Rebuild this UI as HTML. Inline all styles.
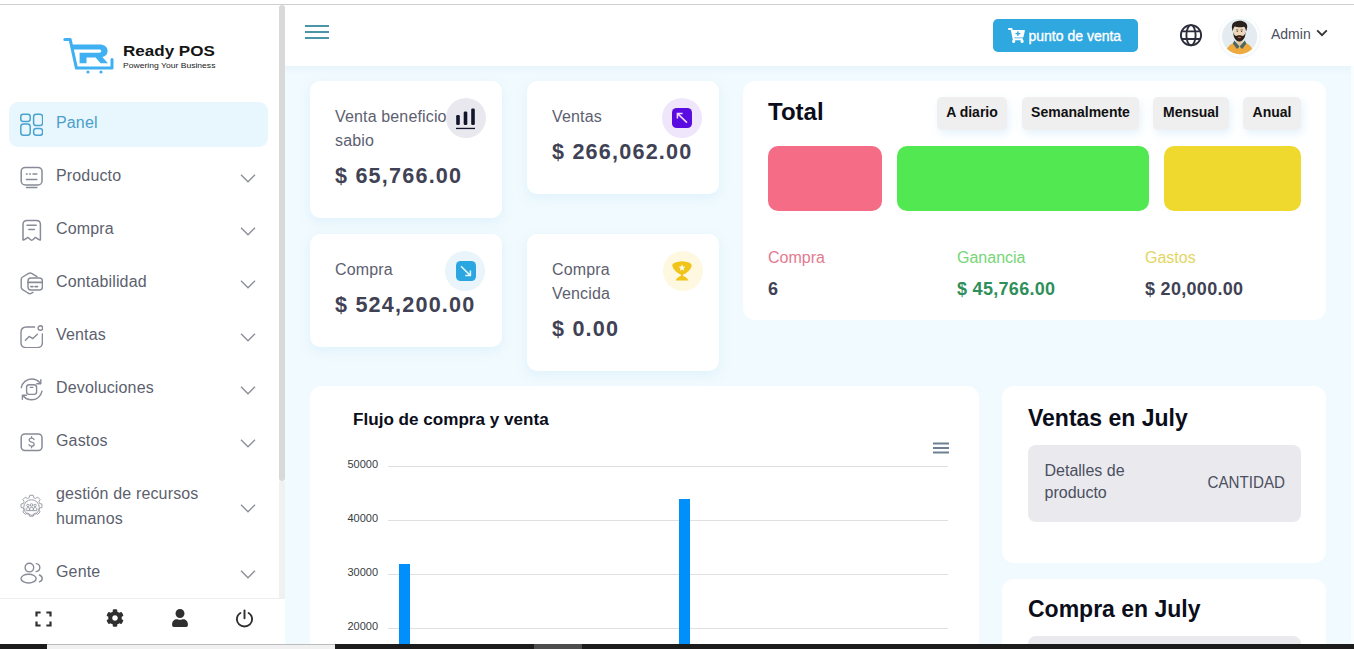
<!DOCTYPE html>
<html lang="es">
<head>
<meta charset="utf-8">
<title>Ready POS</title>
<style>
*{box-sizing:border-box;margin:0;padding:0}
html,body{width:1354px;height:649px;overflow:hidden}
body{font-family:"Liberation Sans",sans-serif;background:#f1fafe;position:relative;color:#3f4254}
.abs{position:absolute}
/* top browser edge */
#topwhite{left:0;top:0;width:1354px;height:4px;background:#fff}
#topline{left:0;top:4px;width:1354px;height:1px;background:#cfcfcf}
/* sidebar */
#sidebar{left:0;top:5px;width:285px;height:593px;background:#fff}
#sbthumb{left:279px;top:5px;width:6px;height:476px;background:#d9d9d9;border-radius:3px}
#sbfoot{left:0;top:598px;width:285px;height:46px;background:#fff;border-top:1px solid #efefef}
.mi{position:absolute;left:9px;width:259px;height:45px;border-radius:9px}
.mi .ic{position:absolute;left:11px;top:11px;width:23px;height:23px}
.mi .tx{position:absolute;left:47px;top:-2px;letter-spacing:.15px;height:45px;line-height:45px;font-size:16px;color:#5c5f6e;white-space:nowrap}
.mi .ch{position:absolute;left:231px;top:19px;width:16px;height:9px}
.mi.act{background:#e8f6fd}
.mi.act .tx{color:#4a9fcb}
/* header */
#header{left:285px;top:5px;width:1069px;height:61px;background:#fff}
#hshadow{left:285px;top:66px;width:1069px;height:8px;background:linear-gradient(#e8f5fc,#f1fafe)}
#posbtn{left:993px;top:19px;width:145px;height:33px;border-radius:5px;background:#2fa7df;color:#fff;font-size:14px;line-height:33px;white-space:nowrap}
/* cards */
.card{position:absolute;background:#fff;border-radius:10px;box-shadow:0 4px 12px rgba(170,215,245,.230)}
.card .lbl{position:absolute;left:25px;margin-top:1px;letter-spacing:.150px;font-size:16px;line-height:24px;color:#5d6070}
.card .val{position:absolute;left:25px;font-size:21.600px;line-height:26px;font-weight:bold;color:#3f4254;white-space:nowrap;letter-spacing:1.200px}
.card .circ{position:absolute;width:40px;height:40px;border-radius:50%}
.panel{position:absolute;background:#fff;border-radius:12px}
.pbtn{position:absolute;top:97px;height:33px;padding-bottom:2px;border-radius:5px;background:#efefef;font-size:14px;font-weight:bold;color:#111;line-height:31px;text-align:center;box-shadow:2px 4px 8px rgba(170,215,245,.300)}
.blk{position:absolute;top:146px;height:65px;border-radius:10px}
.tl{position:absolute;top:247px;font-size:16px;line-height:22px}
.tv{position:absolute;top:277px;letter-spacing:.300px;font-size:18px;line-height:24px;font-weight:bold;color:#3f4254}
.gl{position:absolute;left:388px;width:560px;height:1px;background:#e0e0e0}
.yl{position:absolute;left:340px;width:38px;text-align:right;font-size:11px;line-height:12px;color:#373d3f}
.bar{position:absolute;width:11px;background:#008ffb}
.h2{position:absolute;font-size:23px;margin-top:1px;font-weight:bold;color:#0b0e1a;white-space:nowrap}
.th{position:absolute;background:#e9e9ee;border-radius:8px}

#lg1{left:122.600px;top:40.600px;font-size:14.200px;font-weight:bold;color:#141414;line-height:20px;white-space:nowrap;transform-origin:0 50%;transform:scaleX(1.2)}
#lg2{left:122.600px;top:61.200px;font-size:6.600px;color:#222;line-height:10px;white-space:nowrap;transform-origin:0 50%;transform:scaleX(1.300)}
#bottombar{left:0;top:644px;width:1354px;height:5px;background:#1c1c1c}
</style>
</head>
<body>
<div class="abs" id="topwhite"></div>
<div class="abs" id="topline"></div>

<!-- HEADER -->
<div class="abs" id="header"></div>
<div class="abs" id="hshadow"></div>


<!-- HEADER CONTENT -->
<svg class="abs" style="left:305px;top:24px" width="24" height="16" viewBox="0 0 24 16"><path d="M0 2 H24 M0 8 H24 M0 14 H24" stroke="#4a96a6" stroke-width="1.800"/></svg>
<div class="abs" id="posbtn">
  <svg style="position:absolute;left:15px;top:9px" width="17" height="15" viewBox="0 0 576 512"><path fill="#fff" d="M504.700 320H211.600l6.500 32h268.400c15.400 0 26.800 14.300 23.400 29.300l-5.500 24.300C523 414.700 536 433.800 536 456c0 31.200-25.500 56.400-56.800 56-29.800-.400-54.300-24.600-55.100-54.400-.400-16.300 6.100-31 16.800-41.600H231.200c10.400 10.300 16.800 24.400 16.800 40 0 31.800-26.500 57.400-58.700 55.900-28.500-1.300-51.700-24.400-53.200-52.900-1.200-22 10.400-41.500 28.100-51.600L93.900 64H24C10.700 64 0 53.300 0 40V24C0 10.700 10.700 0 24 0h102.500c11.400 0 21.200 8 23.500 19.200L159.200 64H552c15.400 0 26.800 14.300 23.400 29.300l-47.300 208c-2.500 10.900-12.200 18.700-23.400 18.700zM408 168h-48v-40c0-8.800-7.200-16-16-16h-16c-8.800 0-16 7.200-16 16v40h-48c-8.800 0-16 7.200-16 16v16c0 8.800 7.200 16 16 16h48v40c0 8.800 7.200 16 16 16h16c8.800 0 16-7.200 16-16v-40h48c8.800 0 16-7.200 16-16v-16c0-8.800-7.200-16-16-16z"/></svg>
  <span style="position:absolute;left:35.500px;top:1px;-webkit-text-stroke:.35px #fff">punto de venta</span>
</div>
<svg class="abs" style="left:1179px;top:23px" width="24" height="24" viewBox="0 0 24 24" fill="none" stroke="#2b2d3a" stroke-width="1.900">
  <circle cx="12" cy="12.200" r="10.100"/>
  <ellipse cx="12" cy="12.200" rx="4.600" ry="10.100"/>
  <path d="M2.600 8.400 H21.400 M2.600 16 H21.400"/>
</svg>
<!-- avatar -->
<svg class="abs" style="left:1215px;top:12px" width="50" height="50" viewBox="0 0 50 50">
  <defs><clipPath id="avc"><circle cx="24.600" cy="24.600" r="17.600"/></clipPath></defs>
  <circle cx="24.600" cy="25.200" r="21.400" fill="#eaf0f4" opacity=".55"/>
  <circle cx="24.600" cy="24.400" r="20.300" fill="#fdfefe"/>
  <circle cx="24.600" cy="24.600" r="17.600" fill="#e4ecf1"/>
  <g clip-path="url(#avc)">
    <path d="M10.500 43 C10.500 35.500 15.500 31.800 19.600 30.400 L24.600 33.400 L29.600 30.400 C33.700 31.800 38.700 35.500 38.700 43 Z" fill="#eeaa3e"/>
    <path d="M21.400 25 H27.600 V30 L24.600 34.400 L21.400 30 Z" fill="#e2c3a2"/>
    <path d="M20.600 29.200 L24.600 34.600 L28.600 29.200 L28.200 33 L24.600 35.400 L21 33 Z" fill="#dfe9e3"/>
    <path d="M19.400 28.600 L24.600 34.600 L22 37 L17.800 31.600 Z" fill="#4f675d"/>
    <path d="M29.800 28.600 L24.600 34.600 L27.200 37 L31.400 31.600 Z" fill="#4f675d"/>
    <ellipse cx="24.400" cy="19.800" rx="5.900" ry="6.900" fill="#eed6b8"/>
    <path d="M18.300 19.600 C18 26 21 29.500 24.400 29.500 C27.800 29.500 30.800 26 30.500 19.600 C30.100 22.600 29.200 23.700 27.600 24 C26.200 23 22.600 23 21.200 24 C19.600 23.700 18.700 22.600 18.300 19.600 Z" fill="#2b1f1a"/>
    <ellipse cx="24.400" cy="25.500" rx="1.700" ry=".700" fill="#b8574a"/>
    <path d="M17.900 19.600 C15.700 14.200 17.300 10.400 20.800 9.600 C22.800 8.300 27 8.400 29.400 10 C32.600 11.400 33.100 15 31 19.600 C30.800 17.200 30.200 15.800 29 14.800 C26 15.600 22 15.400 19.800 14.600 C18.600 15.800 18.100 17.200 17.900 19.600 Z" fill="#2a211c"/>
    <circle cx="22.200" cy="19.300" r=".600" fill="#3a2a22"/><circle cx="26.600" cy="19.300" r=".600" fill="#3a2a22"/>
    <path d="M21 17.900 H23.300 M25.500 17.900 H27.800" stroke="#3a2a22" stroke-width=".600"/>
  </g>
</svg>
<div class="abs" style="left:1271px;top:24px;font-size:14px;line-height:20px;color:#4b4f5c">Admin</div>
<svg class="abs" style="left:1316px;top:29px" width="12" height="8" viewBox="0 0 12 8" fill="none" stroke="#333" stroke-width="1.800"><path d="M1.200 1.300 L6 6.200 L10.800 1.300"/></svg>

<!-- STAT CARDS -->
<div class="card" style="left:310px;top:81px;width:192px;height:137px">
  <div class="lbl" style="top:23px;width:120px;white-space:nowrap">Venta beneficio<br>sabio</div>
  <div class="val" style="top:82px">$ 65,766.00</div>
  <div class="circ" style="left:136px;top:17px;background:#e9e8ee"></div>
  <svg style="position:absolute;left:144px;top:25px" width="24" height="24" viewBox="0 0 24 24" fill="#12162b">
    <rect x="2.200" y="9" width="3.600" height="10.100" rx="1.300"/><rect x="9.700" y="5.500" width="3.600" height="13.600" rx="1.300"/><rect x="17.200" y="2.500" width="3.600" height="16.600" rx="1.300"/>
    <rect x="2" y="21.800" width="19" height="1.300"/>
  </svg>
</div>
<div class="card" style="left:527px;top:81px;width:192px;height:113px">
  <div class="lbl" style="top:23px">Ventas</div>
  <div class="val" style="top:58px">$ 266,062.00</div>
  <div class="circ" style="left:135px;top:17px;background:#efe6fb"></div>
  <svg style="position:absolute;left:145px;top:27px" width="20" height="20" viewBox="0 0 20 20"><rect width="20" height="20" rx="4.600" fill="#5a0ce0"/><path d="M15 14.600 L5.600 5.600 M5.400 10.400 V5.400 H10.600" stroke="#f3d9f9" stroke-width="1.500" fill="none"/></svg>
</div>
<div class="card" style="left:310px;top:234px;width:192px;height:113px">
  <div class="lbl" style="top:23px">Compra</div>
  <div class="val" style="top:58px">$ 524,200.00</div>
  <div class="circ" style="left:135px;top:17px;background:#e9f4fb"></div>
  <svg style="position:absolute;left:145.500px;top:26.800px" width="20" height="20" viewBox="0 0 20 20"><rect width="20" height="20" rx="4.600" fill="#2ba6e1"/><path d="M5 5.200 L14.200 14.400 M9.200 14.600 H14.400 V9.400" stroke="#e6f7ff" stroke-width="1.500" fill="none"/></svg>
</div>
<div class="card" style="left:527px;top:234px;width:192px;height:137px">
  <div class="lbl" style="top:23px">Compra<br>Vencida</div>
  <div class="val" style="top:82px">$ 0.00</div>
  <div class="circ" style="left:135.500px;top:17px;background:#fff8e0"></div>
  <svg style="position:absolute;left:145px;top:27px" width="20" height="20" viewBox="0 0 20 20"><path fill="#f0c419" d="M10 0.300 C13 0.300 16.500 1.200 18.600 2.600 C19.600 3.200 19.900 4.200 19.500 5.400 C18.400 8.800 15 12 11 13.800 V15 C13 15.300 15.400 17 16.400 19.600 H3.600 C4.600 17 7 15.300 9 15 V13.800 C5 12 1.600 8.800 0.500 5.400 C0.100 4.200 0.400 3.200 1.400 2.600 C3.500 1.200 7 0.300 10 0.300 Z"/><path fill="#fffaf0" d="M10.00 3.20 L10.94 5.51 L13.42 5.69 L11.52 7.29 L12.12 9.71 L10.00 8.40 L7.88 9.71 L8.48 7.29 L6.58 5.69 L9.06 5.51 Z"/></svg>
</div>

<!-- TOTAL PANEL -->
<div class="panel" style="left:743px;top:81px;width:583px;height:239px"></div>
<div class="abs" style="left:768px;top:97px;font-size:24px;line-height:30px;font-weight:bold;color:#0b0e1a">Total</div>
<div class="pbtn" style="left:937px;width:70px">A diario</div>
<div class="pbtn" style="left:1022px;width:117px">Semanalmente</div>
<div class="pbtn" style="left:1153px;width:76px">Mensual</div>
<div class="pbtn" style="left:1243px;width:58px">Anual</div>
<div class="blk" style="left:768px;width:114px;background:#f46c85"></div>
<div class="blk" style="left:897px;width:252px;background:#52e851"></div>
<div class="blk" style="left:1164px;width:137px;background:#efd92e"></div>
<div class="tl" style="left:768px;color:#e37a8f">Compra</div>
<div class="tl" style="left:957px;color:#76d676">Ganancia</div>
<div class="tl" style="left:1145px;color:#e2d662">Gastos</div>
<div class="tv" style="left:768px">6</div>
<div class="tv" style="left:957px;color:#2f8f5b">$ 45,766.00</div>
<div class="tv" style="left:1145px">$ 20,000.00</div>


<!-- CHART PANEL -->
<div class="panel" style="left:310px;top:386px;width:669px;height:300px"></div>
<div class="abs" style="left:353px;top:409px;font-size:17.100px;line-height:22px;font-weight:bold;color:#0b0e1a;white-space:nowrap">Flujo de compra y venta</div>
<svg class="abs" style="left:932px;top:442px" width="18" height="12" viewBox="0 0 18 12"><path d="M1 1.500 H17 M1 6 H17 M1 10.500 H17" stroke="#6e8192" stroke-width="1.800"/></svg>
<div class="gl" style="top:466px"></div>
<div class="gl" style="top:520px"></div>
<div class="gl" style="top:574px"></div>
<div class="gl" style="top:628px"></div>
<div class="yl" style="top:458px">50000</div>
<div class="yl" style="top:512px">40000</div>
<div class="yl" style="top:566px">30000</div>
<div class="yl" style="top:620px">20000</div>
<div class="bar" style="left:399px;top:564px;height:90px"></div>
<div class="bar" style="left:679px;top:499px;height:150px"></div>

<!-- RIGHT PANELS -->
<div class="panel" style="left:1002px;top:386px;width:324px;height:177px"></div>
<div class="h2" style="left:1028px;top:402px;line-height:30px">Ventas en July</div>
<div class="th" style="left:1028px;top:445px;width:273px;height:77px"></div>
<div class="abs" style="left:1044.500px;top:460px;width:110px;font-size:16px;line-height:22px;color:#4b4f5e">Detalles de producto</div>
<div class="abs" style="left:1185px;top:470.500px;width:100px;text-align:right;font-size:16.400px;line-height:22px;color:#4b4f5e;transform-origin:100% 50%;transform:scaleX(.925)">CANTIDAD</div>

<div class="panel" style="left:1002px;top:579px;width:324px;height:120px"></div>
<div class="h2" style="left:1028px;top:593px;line-height:30px">Compra en July</div>
<div class="th" style="left:1028px;top:636px;width:273px;height:40px"></div>

<!-- SIDEBAR -->
<div class="abs" id="sidebar"></div>
<div class="abs" id="sbthumb"></div>

<!-- LOGO -->
<svg class="abs" style="left:60px;top:34px" width="60" height="44" viewBox="60 34 60 44" fill="none">
  <path d="M64.800 39.600 H70.200 L76.400 68.100 H112 V59.600" stroke="#3fb0f1" stroke-width="3" stroke-linejoin="round" stroke-linecap="round"/>
  <path d="M71.6 44.6 H99.5 C104.5 44.6 107.6 47.2 107.6 51 C107.6 54.2 105.6 56.3 102.3 57 L108 63.3 H100.6 L95.6 57.6 H86.5 V63.3 H79.6 V52.8 H99 C100.6 52.8 101.3 52.1 101.3 51.1 C101.3 50.1 100.6 49.5 99 49.5 H72.7 Z" fill="#3fb0f1"/>
  <circle cx="88" cy="72" r="1.6" fill="#3fb0f1"/>
  <circle cx="101" cy="72" r="1.6" fill="#3fb0f1"/>
</svg>
<div class="abs" id="lg1">Ready POS</div>
<div class="abs" id="lg2">Powering Your Business</div>

<!-- MENU -->
<div class="mi act" style="top:102px">
  <svg class="ic" viewBox="0 0 23 23" fill="none" stroke="#4aa3cf" stroke-width="1.5">
    <rect x="0.8" y="1.2" width="9.4" height="7.2" rx="2.4"/>
    <rect x="0.8" y="11" width="9.4" height="11.2" rx="2.6"/>
    <rect x="13.6" y="1.2" width="9" height="11.4" rx="2.6"/>
    <rect x="13.6" y="15.4" width="9" height="6.8" rx="2.6"/>
  </svg>
  <div class="tx">Panel</div>
</div>

<div class="mi" style="top:155px">
  <svg class="ic" viewBox="0 0 23 23" fill="none" stroke="#888a96" stroke-width="1.5" stroke-linecap="round">
    <rect x="1.2" y="1.4" width="20.8" height="17.6" rx="4"/>
    <path d="M6.5 21.6 H16.8"/>
    <path d="M6.4 8 H7.2 M9.6 8 H10.4 M13 8 H16.8 M6.4 13.4 H16.8"/>
  </svg>
  <div class="tx">Producto</div>
  <svg class="ch" viewBox="0 0 16 9" fill="none" stroke="#8b8d97" stroke-width="1.3"><path d="M1 0.8 L8 7.8 L15 0.8"/></svg>
</div>

<div class="mi" style="top:208px">
  <svg class="ic" viewBox="0 0 23 23" fill="none" stroke="#888a96" stroke-width="1.5" stroke-linecap="round" stroke-linejoin="round">
    <path d="M3 20.800 V5.400 C3 2.900 4.500 1.400 7 1.400 H16.400 C18.900 1.400 20.400 2.900 20.400 5.400 V20.800 C19.400 21.600 17.400 19.600 15.600 18.400 C14 19.400 13 21.200 11.700 21.200 C10.400 21.200 9.400 19.400 7.800 18.400 C6 19.600 4 21.600 3 20.800 Z"/>
    <path d="M7 6.200 H16.200 M8.800 10.400 H14.400"/>
  </svg>
  <div class="tx">Compra</div>
  <svg class="ch" viewBox="0 0 16 9" fill="none" stroke="#8b8d97" stroke-width="1.3"><path d="M1 0.8 L8 7.8 L15 0.8"/></svg>
</div>

<div class="mi" style="top:261px">
  <svg class="ic" viewBox="0 0 23 23" fill="none" stroke="#888a96" stroke-width="1.4" stroke-linecap="round" stroke-linejoin="round">
    <path d="M8 21 L2.6 17.6 C1.6 17 1.2 16.2 1.2 15 V7.6 C1.2 6.4 1.6 5.6 2.6 5 L8.6 1.4 C9.6 0.8 10.6 0.8 11.6 1.4 L17 4.6"/>
    <path d="M8 21 C9 21.7 10.4 21.9 11.4 21.2 L13 20.3"/>
    <rect x="8" y="6" width="14.4" height="12" rx="3"/>
    <path d="M8 10.4 H22.4" stroke-width="1.8"/>
    <path d="M10.8 14.6 H13 M15 14.6 H17.6" stroke-width="1.6"/>
  </svg>
  <div class="tx">Contabilidad</div>
  <svg class="ch" viewBox="0 0 16 9" fill="none" stroke="#8b8d97" stroke-width="1.3"><path d="M1 0.8 L8 7.8 L15 0.8"/></svg>
</div>

<div class="mi" style="top:314px">
  <svg class="ic" viewBox="0 0 23 23" fill="none" stroke="#888a96" stroke-width="1.4" stroke-linecap="round" stroke-linejoin="round">
    <path d="M14.6 2 H6.4 C3 2 1 4 1 7.4 V17.4 C1 20.8 3 22.6 6.4 22.6 H17 C20.4 22.6 22.4 20.8 22.4 17.4 V9"/>
    <circle cx="20.4" cy="3" r="2.3"/>
    <path d="M5.4 15.2 L9.2 11.4 L12.8 13.6 L17.4 9.2"/>
  </svg>
  <div class="tx">Ventas</div>
  <svg class="ch" viewBox="0 0 16 9" fill="none" stroke="#8b8d97" stroke-width="1.3"><path d="M1 0.8 L8 7.8 L15 0.8"/></svg>
</div>

<div class="mi" style="top:367px">
  <svg class="ic" viewBox="0 0 23 23" fill="none" stroke="#888a96" stroke-width="1.4" stroke-linecap="round" stroke-linejoin="round">
    <path d="M1.300 9.600 C2.300 4.400 6.600 1 11.600 1 C15.200 1 18.400 2.700 20.200 5.300 M20.800 1.700 V5.700 H16.800"/>
    <path d="M22 13.200 C21 18.400 16.600 21.800 11.600 21.800 C8 21.800 4.800 20.100 3 17.500 M2.400 21.200 V17.200 H6.400"/>
    <rect x="6.600" y="6.800" width="10" height="9.600" rx="2.600"/>
    <path d="M10.400 9.400 H12.800"/>
  </svg>
  <div class="tx">Devoluciones</div>
  <svg class="ch" viewBox="0 0 16 9" fill="none" stroke="#8b8d97" stroke-width="1.3"><path d="M1 0.8 L8 7.8 L15 0.8"/></svg>
</div>

<div class="mi" style="top:420px">
  <svg class="ic" viewBox="0 0 23 23" fill="none" stroke="#888a96" stroke-width="1.5" stroke-linecap="round" stroke-linejoin="round">
    <rect x="1.2" y="3" width="20.8" height="16.4" rx="3.6"/>
    <path d="M14 8.6 C13.6 7.6 12.8 7.2 11.6 7.2 C10.2 7.2 9.2 8 9.2 9.2 C9.2 12 14.2 10.4 14.2 13.2 C14.2 14.4 13.2 15.2 11.6 15.2 C10.2 15.2 9.2 14.6 9 13.6 M11.6 5.6 V7.2 M11.6 15.2 V16.8" stroke-width="1.3"/>
  </svg>
  <div class="tx">Gastos</div>
  <svg class="ch" viewBox="0 0 16 9" fill="none" stroke="#8b8d97" stroke-width="1.3"><path d="M1 0.8 L8 7.8 L15 0.8"/></svg>
</div>

<div class="mi" style="top:473px;height:70px">
  <svg class="ic" style="top:21px;width:27px;height:27px;left:9px" viewBox="0 0 25 25" fill="none" stroke="#9a9ca6" stroke-width="0.9" stroke-linejoin="round">
    <path d="M10.9 1.2 h3.2 l.5 2.2 l1.7 .7 l1.9 -1.2 l2.3 2.3 l-1.2 1.9 l.7 1.7 l2.2 .5 v3.2 l-2.2 .5 l-.7 1.7 l1.2 1.9 l-2.3 2.3 l-1.9 -1.2 l-1.7 .7 l-.5 2.2 h-3.2 l-.5 -2.2 l-1.7 -.7 l-1.9 1.2 l-2.3 -2.3 l1.2 -1.9 l-.7 -1.7 l-2.2 -.5 v-3.200 l2.2 -.5 l.7 -1.7 l-1.2 -1.9 l2.300 -2.300 l1.9 1.2 l1.7 -.7 z"/>
    <circle cx="12.500" cy="12.500" r="7.200"/>
    <circle cx="9.200" cy="10.600" r="1.100"/><circle cx="12.500" cy="10.200" r="1.200"/><circle cx="15.800" cy="10.600" r="1.100"/>
    <path d="M7.600 15.400 v-2 c0 -1 3.200 -1 3.200 0 v2 z M10.800 15.400 v-2.400 c0 -1 3.400 -1 3.400 0 v2.400 z M14.200 15.400 v-2 c0 -1 3.200 -1 3.200 0 v2 z"/>
  </svg>
  <div class="tx" style="top:8px;height:50px;line-height:25px;white-space:normal;width:160px">gestión de recursos humanos</div>
  <svg class="ch" style="top:31px" viewBox="0 0 16 9" fill="none" stroke="#8b8d97" stroke-width="1.3"><path d="M1 0.8 L8 7.8 L15 0.8"/></svg>
</div>

<div class="mi" style="top:551px">
  <svg class="ic" viewBox="0 0 23 23" fill="none" stroke="#888a96" stroke-width="1.4" stroke-linecap="round">
    <circle cx="9.400" cy="5.600" r="4.300"/>
    <ellipse cx="8.600" cy="16.600" rx="7.600" ry="4.400"/>
    <path d="M16.200 1.600 C18.400 1.900 19.800 3.500 19.800 5.600 C19.800 7.700 18.400 9.300 16.200 9.600"/>
    <path d="M19.400 13 C21.200 13.700 22.200 14.900 22.200 16.400 C22.200 17.900 21.200 19.100 19.400 19.800"/>
  </svg>
  <div class="tx">Gente</div>
  <svg class="ch" viewBox="0 0 16 9" fill="none" stroke="#8b8d97" stroke-width="1.3"><path d="M1 0.8 L8 7.800 L15 0.8"/></svg>
</div>

<div class="abs" id="sbfoot"></div>


<div class="abs" id="bottombar"></div>
<!-- footer icons -->
<svg class="abs" style="left:35px;top:611px" width="17" height="16" viewBox="0 0 17 16" fill="none" stroke="#2f2f2f" stroke-width="2.200"><path d="M1.500 5.400 V1.500 H5.600 M11.400 1.500 H15.500 V5.400 M15.500 10.600 V14.500 H11.400 M5.600 14.500 H1.500 V10.600"/></svg>
<svg class="abs" style="left:106px;top:609px" width="18" height="18" viewBox="0 0 512 512"><path fill="#2f2f2f" d="M487.400 315.700l-42.600-24.600c4.300-23.200 4.300-47 0-70.200l42.600-24.600c4.900-2.800 7.100-8.600 5.500-14-11.100-35.600-30-67.800-54.700-94.600-3.800-4.100-10-5.100-14.800-2.300L380.800 110c-17.900-15.400-38.500-27.300-60.800-35.100V25.800c0-5.600-3.900-10.500-9.400-11.700-36.700-8.200-74.300-7.800-109.200 0-5.500 1.200-9.400 6.100-9.400 11.700V75c-22.200 7.900-42.800 19.800-60.800 35.100L88.700 85.500c-4.900-2.800-11-1.900-14.800 2.300-24.700 26.700-43.600 58.900-54.700 94.600-1.700 5.400.600 11.200 5.500 14L67.300 221c-4.300 23.200-4.300 47 0 70.200l-42.600 24.600c-4.900 2.800-7.100 8.600-5.500 14 11.100 35.600 30 67.800 54.700 94.600 3.800 4.100 10 5.100 14.800 2.300l42.600-24.600c17.900 15.400 38.500 27.300 60.800 35.100v49.200c0 5.600 3.900 10.500 9.400 11.700 36.700 8.200 74.300 7.800 109.200 0 5.500-1.200 9.400-6.100 9.400-11.700v-49.200c22.200-7.900 42.800-19.800 60.800-35.100l42.600 24.600c4.900 2.800 11 1.900 14.800-2.300 24.700-26.700 43.600-58.900 54.700-94.600 1.500-5.500-.700-11.300-5.600-14.100zM256 336c-44.100 0-80-35.900-80-80s35.900-80 80-80 80 35.900 80 80-35.900 80-80 80z"/></svg>
<svg class="abs" style="left:172px;top:609px" width="16" height="18" viewBox="0 0 448 512"><path fill="#2f2f2f" d="M224 256c70.700 0 128-57.300 128-128S294.700 0 224 0 96 57.300 96 128s57.300 128 128 128zm89.600 32h-16.700c-22.200 10.200-46.900 16-72.900 16s-50.600-5.800-72.900-16h-16.700C60.200 288 0 348.200 0 422.400V464c0 26.500 21.500 48 48 48h352c26.500 0 48-21.500 48-48v-41.600c0-74.200-60.200-134.400-134.400-134.400z"/></svg>
<svg class="abs" style="left:235px;top:609px" width="19" height="19" viewBox="0 0 19 19" fill="none" stroke="#2f2f2f" stroke-width="1.900" stroke-linecap="round"><path d="M9.500 1.400 V9.200"/><path d="M5.400 4 C3.200 5.400 1.900 7.600 1.900 10.200 C1.900 14.400 5.300 17.500 9.500 17.500 C13.700 17.500 17.100 14.400 17.100 10.200 C17.100 7.600 15.800 5.400 13.600 4"/></svg>
<div class="abs" style="left:47px;top:644px;width:288px;height:5px;background:#f0f0f0;border-top:1px solid #bdbdbd"></div>
<div class="abs" style="left:534px;top:644px;width:48px;height:5px;background:#4d4d4d"></div>
<div class="abs" style="left:279px;top:481px;width:6px;height:117px;background:#f1f1f1"></div>
<div class="abs" style="left:1351px;top:66px;width:3px;height:578px;background:#f9fdff"></div>
</body>
</html>
